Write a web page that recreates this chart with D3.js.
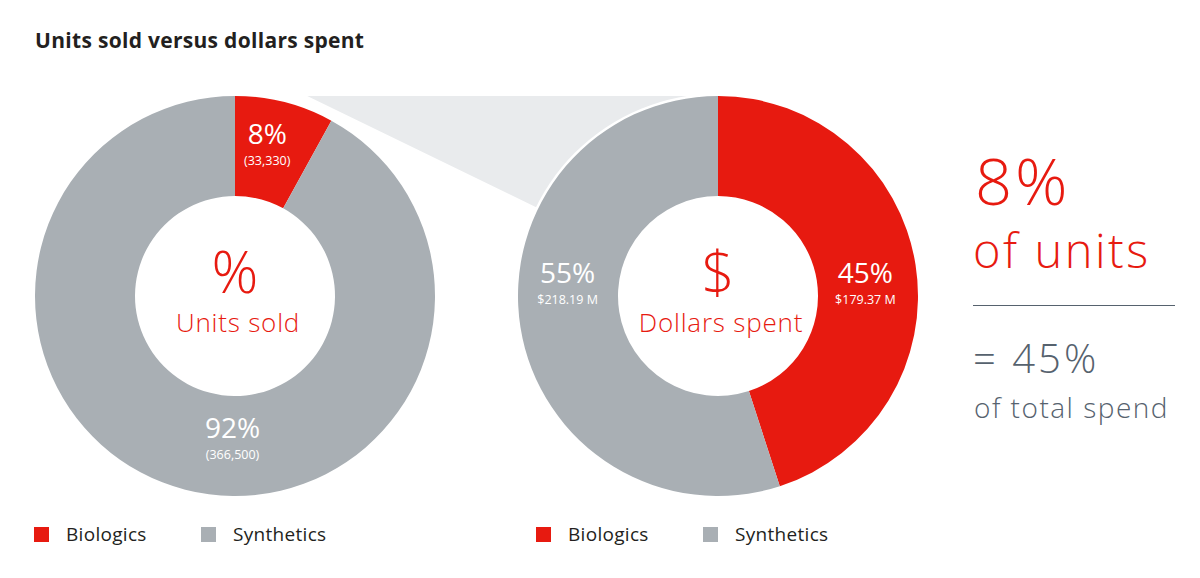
<!DOCTYPE html>
<html>
<head>
<meta charset="utf-8">
<script src="https://cdn.jsdelivr.net/npm/d3@7"></script>
<style>
  html, body { margin: 0; padding: 0; background: #fff; }
  svg { display: block; font-family: "Open Sans", "Noto Sans", sans-serif; }
</style>
</head>
<body>
<svg id="chart" width="1200" height="578"></svg>
<script>
// ---- Data ----
const categories = ["Biologics", "Synthetics"];
const unitsPct = [8, 92];
const unitsLabels = ["(33,330)", "(366,500)"];
const dollarsPct = [45, 55];
const dollarsLabels = ["$179.37 M", "$218.19 M"];
const titleText = "Units sold versus dollars spent";
const calloutLines = ["8%", "of units", "= 45%", "of total spend"];

// ---- Styles / layout ----
const RED = "#e71a10";
const GREY = "#a9afb4";
const LIGHT = "#e9ebed";
const SLATE = "#56626e";
const DARK = "#231f20";

const svg = d3.select("#chart");
const R = 200, r = 100, cy = 296;
const cx1 = 235, cx2 = 718;

const colour = d3.scaleOrdinal().domain(categories).range([RED, GREY]);
const pie = d3.pie().sort(null).value(d => d.value);
const arc = d3.arc().innerRadius(r).outerRadius(R);

// title
svg.append("text").attr("x", 35).attr("y", 48)
  .attr("font-size", 21).attr("font-weight", 700).attr("fill", DARK)
  .attr("letter-spacing", 0.3)
  .text(titleText);

// connector wedge (behind right donut)
const a8 = pie(categories.map((c, i) => ({cat: c, value: unitsPct[i]})))[0].endAngle;
const wedgeStartX = cx1 + R * Math.sin(a8) * 0.75;
const connAngle = -64 * Math.PI / 180;
const wedge = [
  [wedgeStartX, cy - R],
  [cx2, cy - R],
  [cx2, cy],
  [cx2 + (R + 4) * Math.sin(connAngle), cy - (R + 4) * Math.cos(connAngle)]
];
svg.append("path").attr("d", d3.line()(wedge) + "Z").attr("fill", LIGHT);

function donut(cx, pcts, subs, centerSym, centerLabel, labelPos, outline) {
  const data = categories.map((c, i) => ({cat: c, value: pcts[i], sub: subs[i]}));
  const g = svg.append("g").attr("transform", `translate(${cx},${cy})`);
  if (outline) {
    g.append("circle").attr("r", R + 2.5).attr("fill", "#fff");
  }
  const arcs = pie(data);
  g.selectAll("path.slice").data(arcs).join("path")
    .attr("class", "slice")
    .attr("d", arc)
    .attr("fill", d => colour(d.data.cat));
  arcs.forEach((d, i) => {
    const [lr, la] = labelPos[i];
    const ang = la * Math.PI / 180;
    const x = lr * Math.sin(ang), y = -lr * Math.cos(ang);
    g.append("text").attr("x", x).attr("y", y)
      .attr("text-anchor", "middle").attr("font-size", 28).attr("fill", "#fff")
      .text(d.data.value + "%");
    g.append("text").attr("x", x).attr("y", y + 21)
      .attr("text-anchor", "middle").attr("font-size", 12.5).attr("fill", "#fff")
      .text(d.data.sub);
  });
  g.append("text").attr("x", 0).attr("y", -3)
    .attr("text-anchor", "middle").attr("font-size", 58).attr("font-weight", 300).attr("fill", RED)
    .text(centerSym);
  g.append("text").attr("x", 3).attr("y", 36)
    .attr("text-anchor", "middle").attr("font-size", 26).attr("font-weight", 300).attr("fill", RED)
    .attr("letter-spacing", 0.8)
    .text(centerLabel);
}

donut(cx1, unitsPct, unitsLabels, "%", "Units sold", [[155, 12], [142, 181]], false);
donut(cx2, dollarsPct, dollarsLabels, "$", "Dollars spent", [[148, 85], [151, 275]], true);

// legends
function legend(x0) {
  const g = svg.append("g").attr("transform", `translate(${x0},527)`);
  const offs = [0, 167];
  categories.forEach((c, i) => {
    g.append("rect").attr("x", offs[i]).attr("y", 0).attr("width", 15).attr("height", 15)
      .attr("fill", colour(c));
    g.append("text").attr("x", offs[i] + 32).attr("y", 14)
      .attr("font-size", 19).attr("letter-spacing", 0.3).attr("fill", DARK).text(c);
  });
}
legend(34);
legend(536);

// callout
const cg = svg.append("g");
cg.append("text").attr("x", 975).attr("y", 205).attr("font-size", 65).attr("font-weight", 300)
  .attr("letter-spacing", 3).attr("fill", RED).text(calloutLines[0]);
cg.append("text").attr("x", 973).attr("y", 268).attr("font-size", 47).attr("font-weight", 300)
  .attr("letter-spacing", 2.5).attr("fill", RED).text(calloutLines[1]);
cg.append("line").attr("x1", 973).attr("x2", 1175).attr("y1", 305.5).attr("y2", 305.5)
  .attr("stroke", SLATE).attr("stroke-width", 1.2);
cg.append("text").attr("x", 973).attr("y", 373).attr("font-size", 40).attr("font-weight", 300)
  .attr("letter-spacing", 3).attr("fill", SLATE).text(calloutLines[2]);
cg.append("text").attr("x", 974).attr("y", 418).attr("font-size", 28).attr("font-weight", 300)
  .attr("letter-spacing", 1.5).attr("fill", SLATE).text(calloutLines[3]);
</script>
</body>
</html>
